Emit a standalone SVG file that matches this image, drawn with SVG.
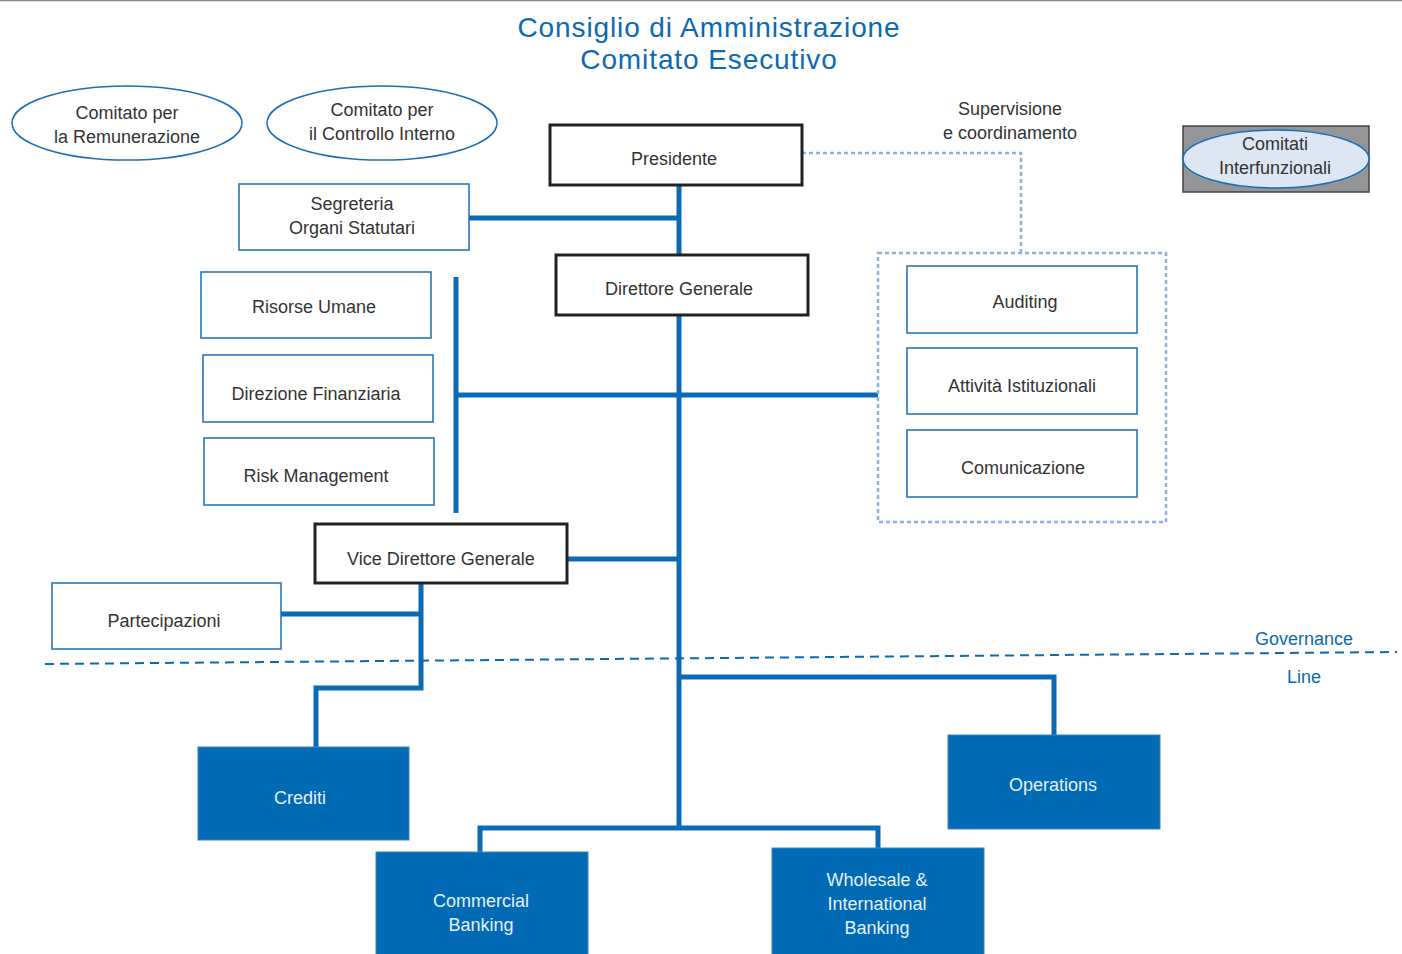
<svg xmlns="http://www.w3.org/2000/svg" width="1402" height="954" viewBox="0 0 1402 954">
<style>
text{font-family:"Liberation Sans",Arial,sans-serif;font-size:18px;fill:#333;text-anchor:middle}
.title{font-size:28px;letter-spacing:0.9px;fill:#0a6ab3}
.blue{fill:#0a6ab3}
.wt{fill:#e6eff8}
.bx{fill:#fff;stroke:#1a6fb8;stroke-width:1.5}
.bk{fill:#fff;stroke:#222;stroke-width:3}
.dk{fill:#006ab5;stroke:#3c84c4;stroke-width:1}
.el{fill:#fff;stroke:#1a6fb8;stroke-width:1.5}
.cn{fill:none;stroke:#0a6ab3;stroke-width:5}
.dot{fill:none;stroke:#8fb0dc;stroke-width:2.5;stroke-dasharray:4 3}
</style>
<line x1="0" y1="0.5" x2="1402" y2="0.5" stroke="#888" stroke-width="1.5"/>
<g id="title">
<text class="title" x="709" y="37">Consiglio di Amministrazione</text>
<text class="title" x="709" y="69">Comitato Esecutivo</text>
</g>
<g id="connectors">
<path class="cn" d="M679 185V828"/>
<path class="cn" d="M469 218H679"/>
<path class="cn" d="M456 277V513"/>
<path class="cn" d="M456 395H878"/>
<path class="cn" d="M567 559H679"/>
<path class="cn" d="M421 583V688H316V747"/>
<path class="cn" d="M281 614H421"/>
<path class="cn" d="M679 677H1054V735"/>
<path class="cn" d="M480 852V828H878V848"/>
<path class="dot" d="M802 153H1021V253"/>
<path fill="none" stroke="#0a6ab3" stroke-width="2" stroke-dasharray="9 6" d="M45 664L1397 652"/>
</g>
<g id="comitato-remunerazione">
<ellipse class="el" cx="127" cy="123" rx="115" ry="37"/>
<text x="127" y="119">Comitato per</text>
<text x="127" y="143">la Remunerazione</text>
</g>
<g id="comitato-controllo">
<ellipse class="el" cx="382" cy="123" rx="115" ry="37"/>
<text x="382" y="116">Comitato per</text>
<text x="382" y="140">il Controllo Interno</text>
</g>
<g id="presidente">
<rect class="bk" x="550" y="125" width="252" height="60"/>
<text x="674" y="165">Presidente</text>
</g>
<g id="supervisione">
<text x="1010" y="115">Supervisione</text>
<text x="1010" y="139">e coordinamento</text>
</g>
<g id="comitati-interfunzionali">
<rect x="1183" y="126" width="186" height="66" fill="#939598" stroke="#444" stroke-width="1.5"/>
<ellipse cx="1276" cy="159" rx="93" ry="29" fill="#dde6f3" stroke="#1a6fb8" stroke-width="1.5"/>
<text x="1275" y="150">Comitati</text>
<text x="1275" y="174">Interfunzionali</text>
</g>
<g id="segreteria">
<rect class="bx" x="239" y="184" width="230" height="66"/>
<text x="352" y="210">Segreteria</text>
<text x="352" y="234">Organi Statutari</text>
</g>
<g id="direttore-generale">
<rect class="bk" x="556" y="255" width="252" height="60"/>
<text x="679" y="295">Direttore Generale</text>
</g>
<g id="risorse-umane">
<rect class="bx" x="201" y="272" width="230" height="66"/>
<text x="314" y="313">Risorse Umane</text>
</g>
<g id="direzione-finanziaria">
<rect class="bx" x="203" y="355" width="230" height="67"/>
<text x="316" y="400">Direzione Finanziaria</text>
</g>
<g id="risk-management">
<rect class="bx" x="204" y="438" width="230" height="67"/>
<text x="316" y="482">Risk Management</text>
</g>
<g id="staff-group">
<rect class="dot" x="878" y="253" width="288" height="269"/>
</g>
<g id="auditing">
<rect class="bx" x="907" y="266" width="230" height="67"/>
<text x="1025" y="308">Auditing</text>
</g>
<g id="attivita-istituzionali">
<rect class="bx" x="907" y="348" width="230" height="66"/>
<text x="1022" y="392">Attività Istituzionali</text>
</g>
<g id="comunicazione">
<rect class="bx" x="907" y="430" width="230" height="67"/>
<text x="1023" y="474">Comunicazione</text>
</g>
<g id="vice-direttore">
<rect class="bk" x="315" y="524" width="252" height="59"/>
<text x="441" y="565">Vice Direttore Generale</text>
</g>
<g id="partecipazioni">
<rect class="bx" x="52" y="583" width="229" height="66"/>
<text x="164" y="627">Partecipazioni</text>
</g>
<g id="governance-labels">
<text class="blue" x="1304" y="645">Governance</text>
<text class="blue" x="1304" y="683">Line</text>
</g>
<g id="crediti">
<rect class="dk" x="198" y="747" width="211" height="93"/>
<text class="wt" x="300" y="804">Crediti</text>
</g>
<g id="operations">
<rect class="dk" x="948" y="735" width="212" height="94"/>
<text class="wt" x="1053" y="791">Operations</text>
</g>
<g id="commercial-banking">
<rect class="dk" x="376" y="852" width="212" height="103"/>
<text class="wt" x="481" y="907">Commercial</text>
<text class="wt" x="481" y="931">Banking</text>
</g>
<g id="wholesale">
<rect class="dk" x="772" y="848" width="212" height="107"/>
<text class="wt" x="877" y="886">Wholesale &amp;</text>
<text class="wt" x="877" y="910">International</text>
<text class="wt" x="877" y="934">Banking</text>
</g>
</svg>
